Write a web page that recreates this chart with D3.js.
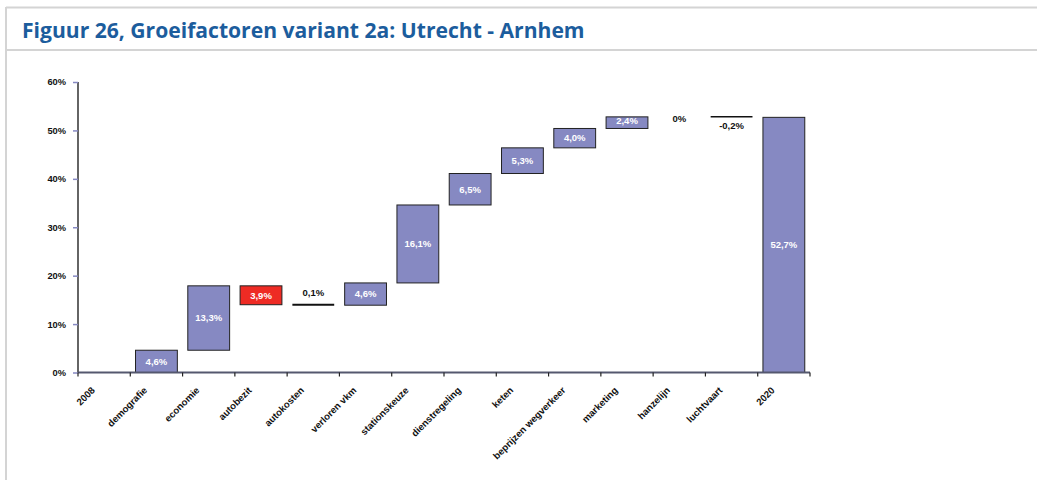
<!DOCTYPE html>
<html><head><meta charset="utf-8">
<script src="https://cdn.jsdelivr.net/npm/d3@7"></script>
<style>
html,body{margin:0;padding:0;background:#fff;}
svg{display:block;}
</style></head>
<body>
<svg id="c" width="1037" height="480"></svg>
<script>
const title = "Figuur 26, Groeifactoren variant 2a: Utrecht - Arnhem";
const categories = ["2008","demografie","economie","autobezit","autokosten","verloren vkm","stationskeuze","dienstregeling","keten","beprijzen wegverkeer","marketing","hanzelijn","luchtvaart","2020"];
const barLow  = [0, 0,   4.6, 14.0, 13.9, 13.9, 18.5, 34.6, 41.1, 46.4, 50.4, 52.8, 52.6, 0];
const barHigh = [0, 4.6, 17.9, 17.9, 14.0, 18.5, 34.6, 41.1, 46.4, 50.4, 52.8, 52.8, 52.8, 52.7];
const labels  = ["0,0%","4,6%","13,3%","3,9%","0,1%","4,6%","16,1%","6,5%","5,3%","4,0%","2,4%","0%","-0,2%","52,7%"];
const kinds   = ["empty","up","up","down","line","up","up","up","up","up","up","none","line","total"];
const yTicks  = [0,10,20,30,40,50,60];

const svg = d3.select("#c");
// frame
svg.append("line").attr("x1",6).attr("x2",1037).attr("y1",7.5).attr("y2",7.5).attr("stroke","#d4d4d4").attr("stroke-width",2);
svg.append("line").attr("x1",6).attr("x2",1037).attr("y1",50).attr("y2",50).attr("stroke","#d4d4d4").attr("stroke-width",2);
svg.append("line").attr("x1",6).attr("x2",6).attr("y1",7).attr("y2",480).attr("stroke","#d4d4d4").attr("stroke-width",2);
svg.append("text").attr("x",22).attr("y",37.5).text(title)
  .attr("font-family","Open Sans").attr("font-weight","bold").attr("font-size",21.1).attr("fill","#1c5d9d");

const L=78, R=810, T=82, B=372.5;
const x = d3.scaleBand().domain(categories).range([L,R]).paddingInner(0.2).paddingOuter(0.1);
const xb = d3.scaleBand().domain(categories).range([L,R]);
const y = d3.scaleLinear().domain([0,60]).range([B,T]);

const font = "Liberation Sans";
const g = svg.append("g");

// bars
categories.forEach((c,i)=>{
  const k = kinds[i];
  const x0 = x(c), w = x.bandwidth();
  const lo = barLow[i], hi = barHigh[i];
  if (k==="up"||k==="down"||k==="total") {
    g.append("rect").attr("x",x0).attr("y",y(hi)).attr("width",w).attr("height",y(lo)-y(hi))
      .attr("fill", k==="down" ? "#ee2b24" : "#8689c2").attr("stroke","#222").attr("stroke-width",1);
  } else if (k==="line") {
    g.append("line").attr("x1",x0).attr("x2",x0+w).attr("y1",y(hi)).attr("y2",y(hi))
      .attr("stroke","#111").attr("stroke-width", i===4?2:1.5);
  }
});

// y axis
const ya = svg.append("g").attr("transform",`translate(${L},0)`)
  .call(d3.axisLeft(y).tickValues(yTicks).tickSize(5).tickPadding(7).tickFormat(d=>d+"%"));
ya.select(".domain").attr("stroke","#111").attr("stroke-width",1.3).attr("d",`M0,${T}V${B}`);
ya.selectAll(".tick line").attr("stroke","#8689c2").attr("stroke-width",1.5);
ya.selectAll("text").attr("font-family",font).attr("font-weight","bold").attr("font-size",9.3).attr("fill","#111");

// x axis
const xa = svg.append("g").attr("transform",`translate(0,${B})`);
xa.append("line").attr("x1",L).attr("x2",R).attr("y1",0).attr("y2",0).attr("stroke","#55586f").attr("stroke-width",1.8);
const bounds = categories.map(c=>xb(c)).concat([R]);
xa.selectAll(".tk").data(bounds).join("line").attr("x1",d=>d).attr("x2",d=>d).attr("y1",0).attr("y2",4)
  .attr("stroke","#222").attr("stroke-width",1.2);
xa.selectAll(".lbl").data(categories).join("text")
  .attr("transform",d=>`translate(${xb(d)+xb.bandwidth()/2-11},${16}) rotate(-45)`)
  .attr("text-anchor","end").attr("dy","0.35em")
  .attr("font-family",font).attr("font-weight","bold").attr("font-size",9.6).attr("fill","#111").text(d=>d);

// value labels
categories.forEach((c,i)=>{
  const k = kinds[i];
  const cx = x(c)+x.bandwidth()/2;
  let ty, col="#fff";
  const lo=barLow[i], hi=barHigh[i];
  if (k==="up"||k==="down"||k==="total") { ty = (y(lo)+y(hi))/2; if (i===10) ty -= 2; }
  else if (k==="empty") { ty = y(0)+1; }
  else if (k==="line") { col="#111"; ty = i===4 ? y(hi)-12 : y(hi)+9; }
  else { col="#111"; ty = y(hi)+2; }
  g.append("text").attr("x",cx).attr("y",ty).attr("dy","0.35em").attr("text-anchor","middle")
    .attr("font-family",font).attr("font-weight","bold").attr("font-size",9.5).attr("fill",col).text(labels[i]);
});
</script>
</body></html>
